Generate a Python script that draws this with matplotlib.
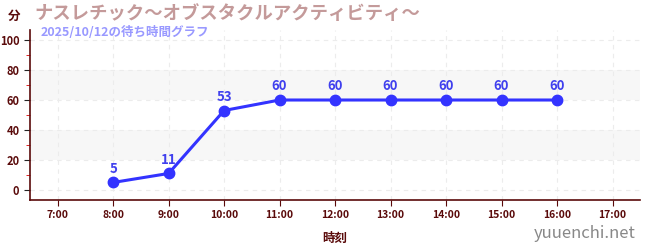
import matplotlib
matplotlib.use("Agg")
from matplotlib import pyplot
from matplotlib.ticker import MultipleLocator

pyplot.rcParams['font.family'] = ['Noto Sans CJK JP', 'DejaVu Sans']

hours = [8, 9, 10, 11, 12, 13, 14, 15, 16]
waits = [5, 11, 53, 60, 60, 60, 60, 60, 60]
tick_hours = list(range(7, 18))
tick_labels = ['%d:00' % h for h in tick_hours]
title = 'ナスレチック～オブスタクルアクティビティ～'
subtitle = '2025/10/12の待ち時間グラフ'

axis_color = '#5a0a0a'
line_color = '#3333ff'

fig = pyplot.figure(figsize=(6.5, 2.5), dpi=100)
ax = fig.add_axes([0.046, 0.2, 0.939, 0.68])

ax.set_xlim(6.5, 17.5)
ax.set_ylim(-6.7, 106.7)

for lo, hi in [(20, 40), (60, 80)]:
    ax.axhspan(lo, hi, color='#f7f7f7', zorder=0, lw=0)

ax.grid(True, color='#ececec', linestyle=(0, (4, 4)), linewidth=0.8, zorder=1)
ax.set_axisbelow(True)

ax.plot(hours, waits, color=line_color, lw=2.2, marker='o', markersize=7.5, zorder=3)
for h, w in zip(hours, waits):
    ax.annotate(str(w), (h, w), xytext=(0, 5), textcoords='offset points',
                ha='center', va='bottom', color='#4040ee', fontsize=9.5, fontweight='bold')

ax.set_xticks(tick_hours)
ax.set_xticklabels(tick_labels)
ax.yaxis.set_major_locator(MultipleLocator(20))
ax.yaxis.set_minor_locator(MultipleLocator(10))
ax.tick_params(axis='both', colors=axis_color, labelsize=8)
ax.tick_params(axis='x', length=4, labelsize=7.5)
ax.tick_params(axis='y', which='major', length=4, color='#222222')
ax.tick_params(axis='y', which='minor', length=3, color='#dd0000')
for lab in ax.get_xticklabels() + ax.get_yticklabels():
    lab.set_fontweight('bold')

for side in ['top', 'right']:
    ax.spines[side].set_visible(False)
for side in ['left', 'bottom']:
    ax.spines[side].set_color(axis_color)
    ax.spines[side].set_linewidth(1.2)

ax.set_xlabel('時刻', color=axis_color, fontsize=9, fontweight='bold', labelpad=8)

fig.text(0.012, 0.935, '分', color=axis_color, fontsize=9, fontweight='bold', va='center')
fig.text(0.053, 0.945, title, color='#c49a9a', fontsize=13.2, fontweight='bold', va='center')
fig.text(0.063, 0.872, subtitle, color='#9999ff', fontsize=9, fontweight='bold', va='center')
fig.text(0.978, 0.065, 'yuuenchi.net', color='#888888', fontsize=12, ha='right', va='center')

fig.savefig('out.png', dpi=100)
